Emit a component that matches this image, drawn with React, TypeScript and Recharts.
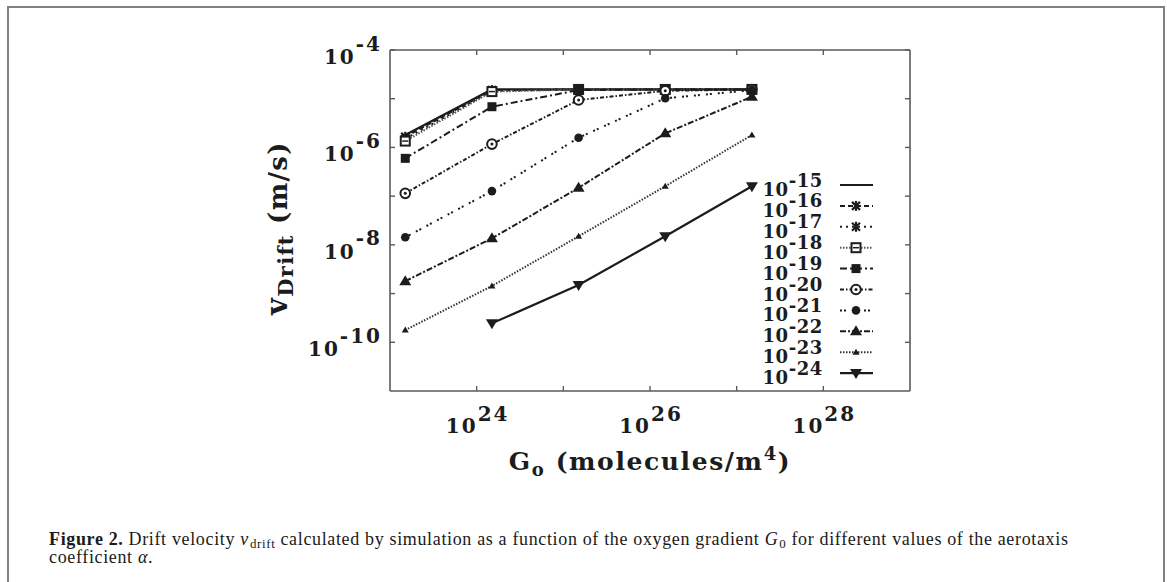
import React from 'react';
import { LineChart, Line, XAxis, YAxis, Legend } from 'recharts';

// ---------- data ----------
const gValues = [1.5e23, 1.5e24, 1.5e25, 1.5e26, 1.5e27];
const alphaExponents = [-15, -16, -17, -18, -19, -20, -21, -22, -23, -24];
const v15 = [1.8e-6, 1.55e-5, 1.55e-5, 1.55e-5, 1.55e-5];
const v16 = [1.65e-6, 1.5e-5, 1.55e-5, 1.55e-5, 1.55e-5];
const v17 = [1.5e-6, 1.45e-5, 1.55e-5, 1.55e-5, 1.55e-5];
const v18 = [1.35e-6, 1.4e-5, 1.55e-5, 1.55e-5, 1.55e-5];
const v19 = [5.97e-7, 6.85e-6, 1.5e-5, 1.55e-5, 1.55e-5];
const v20 = [1.14e-7, 1.17e-6, 9.4e-6, 1.45e-5, 1.55e-5];
const v21 = [1.43e-8, 1.27e-7, 1.58e-6, 1.02e-5, 1.5e-5];
const v22 = [1.8e-9, 1.36e-8, 1.48e-7, 1.95e-6, 1.1e-5];
const v23 = [1.78e-10, 1.43e-9, 1.5e-8, 1.6e-7, 1.8e-6];
const v24 = [null, 2.45e-10, 1.5e-9, 1.5e-8, 1.6e-7];
const seriesValues = [v15, v16, v17, v18, v19, v20, v21, v22, v23, v24];

const xTicks = [1e24, 1e25, 1e26, 1e27, 1e28];
const yTicks = [1e-4, 1e-5, 1e-6, 1e-7, 1e-8, 1e-9, 1e-10];

const data = gValues.map((g, i) => {
  const row: any = { g };
  seriesValues.forEach((arr, k) => {
    row['s' + k] = arr[i];
  });
  return row;
});

// ---------- styles ----------
const INK = '#1c1c1c';
const AXIS = '#5a5a5a';
const FONT = '"DejaVu Serif", serif';

type Shape = 'none' | 'star' | 'sqopen' | 'sqfill' | 'circopen' | 'circfill' | 'triup' | 'trismall' | 'tridown';
const seriesStyle: { dash?: string; shape: Shape; width: number; color: string }[] = [
  { dash: undefined, shape: 'none', width: 2.2, color: INK },
  { dash: '5 3', shape: 'star', width: 2, color: INK },
  { dash: '2 4', shape: 'star', width: 2, color: INK },
  { dash: '1.5 1.5', shape: 'sqopen', width: 2, color: '#555' },
  { dash: '7 3 2 3', shape: 'sqfill', width: 2, color: INK },
  { dash: '4 2 1.5 2', shape: 'circopen', width: 2, color: INK },
  { dash: '2 2 2 6', shape: 'circfill', width: 2, color: INK },
  { dash: '6 2 2 2', shape: 'triup', width: 2, color: INK },
  { dash: '1.5 1.5', shape: 'trismall', width: 2, color: '#333' },
  { dash: undefined, shape: 'tridown', width: 2.2, color: INK },
];

function Marker({ shape, cx, cy }: { shape: Shape; cx: number; cy: number }) {
  switch (shape) {
    case 'star':
      return (
        <g stroke={INK} strokeWidth={2.2}>
          <line x1={cx - 4} y1={cy - 4} x2={cx + 4} y2={cy + 4} />
          <line x1={cx - 4} y1={cy + 4} x2={cx + 4} y2={cy - 4} />
          <line x1={cx} y1={cy - 5} x2={cx} y2={cy + 5} />
        </g>
      );
    case 'sqopen':
      return (
        <g>
          <rect x={cx - 4.5} y={cy - 4.5} width={9} height={9} fill="#fff" stroke={INK} strokeWidth={2} />
          <line x1={cx - 3} y1={cy} x2={cx + 3} y2={cy} stroke={INK} strokeWidth={1.5} />
        </g>
      );
    case 'sqfill':
      return <rect x={cx - 4.5} y={cy - 4.5} width={9} height={9} fill={INK} />;
    case 'circopen':
      return (
        <g>
          <circle cx={cx} cy={cy} r={4.8} fill="#fff" stroke={INK} strokeWidth={2} />
          <circle cx={cx} cy={cy} r={1.5} fill={INK} />
        </g>
      );
    case 'circfill':
      return <circle cx={cx} cy={cy} r={4.3} fill={INK} />;
    case 'triup':
      return <path d={`M${cx},${cy - 6} L${cx + 6},${cy + 4} L${cx - 6},${cy + 4} Z`} fill={INK} />;
    case 'trismall':
      return <path d={`M${cx},${cy - 3.5} L${cx + 3.5},${cy + 2.5} L${cx - 3.5},${cy + 2.5} Z`} fill={INK} />;
    case 'tridown':
      return <path d={`M${cx},${cy + 6} L${cx + 6},${cy - 4} L${cx - 6},${cy - 4} Z`} fill={INK} />;
    default:
      return null;
  }
}

const expOf = (v: number) => Math.round(Math.log10(v));

const BottomTick = (props: any) => {
  const { x, y, payload } = props;
  const e = expOf(payload.value);
  return (
    <g>
      <line x1={x} y1={y} x2={x} y2={y - 5} stroke={AXIS} strokeWidth={1.4} />
      {e % 2 === 0 && (
        <text
          x={x + 1}
          y={y + 42}
          textAnchor="middle"
          fontFamily={FONT}
          fontWeight="bold"
          fontSize={20}
          letterSpacing={2}
          fill={INK}
        >
          10<tspan dy={-12}>{e}</tspan>
        </text>
      )}
    </g>
  );
};
const TopTick = (props: any) => {
  const { x, y } = props;
  return <line x1={x} y1={y} x2={x} y2={y + 5} stroke={AXIS} strokeWidth={1.4} />;
};
const LeftTick = (props: any) => {
  const { x, y, payload } = props;
  const e = expOf(payload.value);
  return (
    <g>
      <line x1={x} y1={y} x2={x + 5} y2={y} stroke={AXIS} strokeWidth={1.4} />
      {e % 2 === 0 && (
        <text
          x={x - 8}
          y={y + 14}
          textAnchor="end"
          fontFamily={FONT}
          fontWeight="bold"
          fontSize={20}
          letterSpacing={2}
          fill={INK}
        >
          10<tspan dy={-13.5}>{e}</tspan>
        </text>
      )}
    </g>
  );
};
const RightTick = (props: any) => {
  const { x, y } = props;
  return <line x1={x} y1={y} x2={x - 5} y2={y} stroke={AXIS} strokeWidth={1.4} />;
};

const LegendBox = () => (
  <svg width={140} height={225} style={{ display: 'block', overflow: 'visible' }}>
    {alphaExponents.map((e, i) => {
      const st = seriesStyle[i];
      const sy = 20 + 20.9 * i;
      return (
        <g key={e}>
          <text
            x={73}
            y={sy + 11}
            textAnchor="end"
            fontFamily={FONT}
            fontWeight="bold"
            fontSize={18}
            letterSpacing={0.6}
            fill={INK}
          >
            10<tspan dy={-9.5}>{e}</tspan>
          </text>
          <line x1={90} y1={sy} x2={123} y2={sy} stroke={st.color} strokeWidth={st.width} strokeDasharray={st.dash} />
          <Marker shape={st.shape} cx={106} cy={sy} />
        </g>
      );
    })}
  </svg>
);

const XLabel = (props: any) => {
  const vb = props.viewBox || { x: 380, y: 383, width: 520 };
  const cx = vb.x + vb.width / 2;
  return (
    <text
      x={cx}
      y={462}
      textAnchor="middle"
      fontFamily={FONT}
      fontWeight="bold"
      fontSize={25}
      letterSpacing={1.6}
      fill={INK}
    >
      G<tspan fontSize={18} dy={6}>o</tspan>
      <tspan dy={-6}> (molecules/m</tspan>
      <tspan fontSize={18} dy={-10}>4</tspan>
      <tspan dy={10}>)</tspan>
    </text>
  );
};

const YLabel = () => {
  const bx = 277;
  const cy = 220;
  return (
    <text
      x={bx}
      y={cy}
      transform={`rotate(-90, ${bx}, ${cy})`}
      textAnchor="middle"
      fontFamily={FONT}
      fontWeight="bold"
      fontSize={26}
      letterSpacing={1.3}
      fill={INK}
    >
      <tspan fontSize={29}>v</tspan>
      <tspan fontSize={21} dy={6}>Drift</tspan>
      <tspan dy={-6}> (m/s)</tspan>
    </text>
  );
};

const subStyle: React.CSSProperties = { fontSize: '0.72em', verticalAlign: '-0.25em', lineHeight: 0, marginLeft: 1, marginRight: 5 };

export default function App() {
  return (
    <div
      style={{
        position: 'absolute',
        left: 7,
        top: 6,
        width: 1154,
        height: 576,
        borderLeft: '2px solid #808080',
        borderTop: '2px solid #808080',
        borderRight: '2px solid #808080',
        background: '#fff',
      }}
    >
      <div style={{ position: 'absolute', left: 1, top: 0 }}>
        <LineChart width={1150} height={500} data={data} margin={{ top: 32, right: 240, bottom: 87, left: 320 }}>
          <XAxis
            xAxisId="b"
            dataKey="g"
            type="number"
            scale="log"
            domain={[1e23, 1e29]}
            allowDataOverflow
            ticks={xTicks}
            tick={<BottomTick />}
            tickLine={false}
            tickSize={0}
            tickMargin={0}
            height={30}
            axisLine={{ stroke: AXIS, strokeWidth: 1.6 }}
            label={<XLabel />}
            interval={0}
          />
          <XAxis
            xAxisId="t"
            orientation="top"
            dataKey="g"
            type="number"
            scale="log"
            domain={[1e23, 1e29]}
            allowDataOverflow
            ticks={xTicks}
            tick={<TopTick />}
            tickLine={false}
            tickSize={0}
            tickMargin={0}
            height={10}
            axisLine={{ stroke: AXIS, strokeWidth: 1.6 }}
            interval={0}
          />
          <YAxis
            yAxisId="l"
            type="number"
            scale="log"
            domain={[1e-11, 1e-4]}
            allowDataOverflow
            ticks={yTicks}
            tick={<LeftTick />}
            tickLine={false}
            tickSize={0}
            tickMargin={0}
            width={60}
            axisLine={{ stroke: AXIS, strokeWidth: 1.6 }}
            label={<YLabel />}
            interval={0}
          />
          <YAxis
            yAxisId="r"
            orientation="right"
            type="number"
            scale="log"
            domain={[1e-11, 1e-4]}
            allowDataOverflow
            ticks={yTicks}
            tick={<RightTick />}
            tickLine={false}
            tickSize={0}
            tickMargin={0}
            width={10}
            axisLine={{ stroke: AXIS, strokeWidth: 1.6 }}
            interval={0}
          />
          {seriesStyle.map((st, k) => (
            <Line
              key={k}
              xAxisId="b"
              yAxisId="l"
              dataKey={'s' + k}
              stroke={st.color}
              strokeWidth={st.width}
              strokeDasharray={st.dash}
              isAnimationActive={false}
              legendType="none"
              dot={(p: any) =>
                p.cx == null || p.cy == null || st.shape === 'none' ? (
                  <g key={p.key ?? p.index} />
                ) : (
                  <g key={p.key ?? p.index}>
                    <Marker shape={st.shape} cx={p.cx} cy={p.cy} />
                  </g>
                )
              }
              activeDot={false}
            />
          ))}
          <Legend
            layout="vertical"
            align="center"
            verticalAlign="middle"
            content={() => <LegendBox />}
            wrapperStyle={{ position: 'absolute', left: 740, top: 157, width: 140, height: 225 }}
          />
        </LineChart>
      </div>
      <div
        style={{
          position: 'absolute',
          left: 40,
          top: 522,
          fontFamily: '"Liberation Serif", serif',
          fontSize: 18,
          letterSpacing: 0.65,
          lineHeight: '18px',
          color: '#1a1a1a',
          whiteSpace: 'nowrap',
        }}
      >
        <div>
          <b style={{ marginRight: 5 }}>Figure 2.</b>Drift velocity <i>v</i>
          <sub style={subStyle}>drift</sub>calculated by simulation as a function of the oxygen gradient <i>G</i>
          <sub style={subStyle}>0</sub>for different values of the aerotaxis
        </div>
        <div>
          coefficient <i>α</i>.
        </div>
      </div>
    </div>
  );
}
